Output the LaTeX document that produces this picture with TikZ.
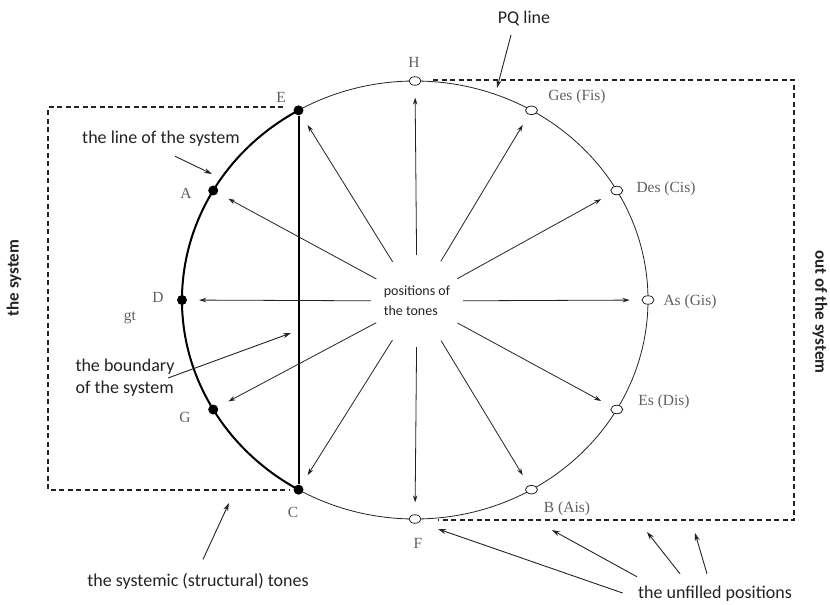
\documentclass[tikz,border=0pt]{standalone}
\usepackage{fontspec}
\setmainfont{Carlito}
\newfontfamily\tonefont{Liberation Serif}
\usetikzlibrary{arrows.meta,positioning,shapes.geometric}
\definecolor{ink}{RGB}{35,35,35}
\definecolor{tonegray}{RGB}{95,95,95}

\begin{document}
\begin{tikzpicture}[x=1pt, y=-1pt,
    open/.style={ellipse, draw=ink, line width=0.8pt, fill=white, minimum width=12pt, minimum height=8.5pt, inner sep=0pt},
    full/.style={circle, fill=black, minimum size=10pt, inner sep=0pt},
    tone/.style={font=\tonefont\fontsize{15.5}{18}\selectfont, text=tonegray},
    note/.style={font=\fontsize{18}{22}\selectfont, text=ink},
    side/.style={font=\bfseries\fontsize{17}{20}\selectfont, text=ink},
    ray/.style={draw=ink, line width=0.8pt, -{Stealth[length=7pt,width=4.5pt]}, shorten >=12pt},
    pointer/.style={draw=ink, line width=0.9pt, -{Stealth[length=8pt,width=5pt]}},
    border/.style={draw=ink, line width=1.1pt, dash pattern=on 5pt off 3.5pt}
]
    \useasboundingbox (0,0) rectangle (830,605);

    % Circle of tones
    \draw[ink, line width=0.8pt] (415,300) ellipse [x radius=233pt, y radius=219pt];
    % Line of the system (thick arc on the left)
    \draw[line width=2pt] (415,300) ++(120:233pt and 219pt)
        arc[start angle=120, end angle=240, x radius=233pt, y radius=219pt];

    % Unfilled positions
    \foreach \ang/\nm in {90/H,60/Ges,30/Des,0/As,-30/Es,-60/B,-90/F}
        \node[open] (p\nm) at ({415+233*cos(\ang)},{300-219*sin(\ang)}) {};
    % Systemic tones
    \foreach \ang/\nm in {120/E,150/A,180/D,210/G,240/C}
        \node[full] (p\nm) at ({415+233*cos(\ang)},{300-219*sin(\ang)}) {};

    % Boundary of the system
    \draw[line width=2pt] (pE) -- (pC);

    % Tone labels
    \node[tone] (lH) at (414,62) {H};
    \node[tone] (lGes) at (577,97) {Ges (Fis)};
    \node[tone] (lDes) at (666,189) {Des (Cis)};
    \node[tone] (lAs) at (690,302) {As (Gis)};
    \node[tone] (lEs) at (664,402) {Es (Dis)};
    \node[tone] (lB) at (567,509) {B (Ais)};
    \node[tone] (lF) at (418,543) {F};
    \node[tone] (lC) at (293,512) {C};
    \node[tone] (lG) at (185,417) {G};
    \node[tone] (lgt) at (130,318) {gt};
    \node[tone] (lD) at (158,297) {D};
    \node[tone] (lA) at (186,193) {A};
    \node[tone] (lE) at (281,97) {E};

    % Centre and rays
    \node[circle, minimum size=92pt, align=left, text=ink,
          font=\fontsize{14}{20}\selectfont] (tones) at (417,301) {positions of\\the tones};
    \foreach \nm in {H,Ges,Des,As,Es,B,F,C,G,D,A,E}
        \draw[ray] (tones) -- (p\nm);

    % Dashed frames
    \draw[border] (283,107) -| (48,490) -- (290,490);
    \draw[border] (433,80) -| (794,520) -- (438,520);

    % Side labels
    \node[side, rotate=90] (insys) at (14,278) {the system};
    \node[side, rotate=-90] (outsys) at (820,312) {out of the system};

    % Notes
    \node[note] (pq) at (524,18) {PQ line};
    \coordinate (pqtip) at (497,88);
    \draw[pointer] ([shift={(-13,6)}]pq.south) -- (pqtip);

    \node[note] (linesys) at (161,139) {the line of the system};
    \coordinate (linetip) at (212,174);
    \draw[pointer] ([shift={(14,6)}]linesys.south) -- (linetip);

    \node[note, align=left] (bound) at (125,378) {the boundary\\of the system};
    \coordinate (boundtip) at (291,333);
    \draw[pointer] ([xshift=-10pt]bound.east) -- (boundtip);

    \node[note] (systones) at (198,581) {the systemic (structural) tones};
    \coordinate (systip) at (229,503);
    \draw[pointer] ([shift={(5,-10)}]systones.north) -- (systip);

    \node[note] (unfilled) at (715,594) {the unfilled positions};
    \coordinate (un1) at (438,529);
    \coordinate (un2) at (552,530);
    \coordinate (un3) at (647,532);
    \coordinate (un4) at (695,533);
    \draw[pointer] ([shift={(-12,-1)}]unfilled.west) -- (un1);
    \draw[pointer] ([shift={(-78,-6)}]unfilled.north) -- (un2);
    \draw[pointer] ([shift={(-35,-9)}]unfilled.north) -- (un3);
    \draw[pointer] ([shift={(-8,-9)}]unfilled.north) -- (un4);
\end{tikzpicture}
\end{document}
